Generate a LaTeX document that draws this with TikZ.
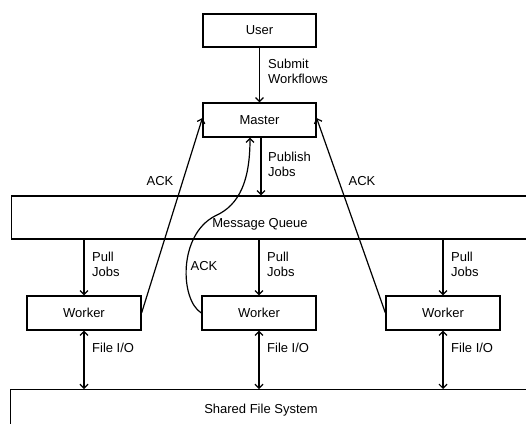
\documentclass[tikz,border=0pt]{standalone}
\usepackage{fontspec}
\setmainfont{Liberation Sans}
\usetikzlibrary{arrows.meta}
\begin{document}
\begin{tikzpicture}[x=1pt,y=-1pt,
  every node/.style={font=\fontsize{13}{15}\selectfont, inner sep=0pt},
  box/.style={draw, line width=1.2pt, minimum height=34pt},
  lbl/.style={anchor=west, align=left},
  conn/.style={line width=1.2pt, -{Straight Barb[length=4pt,width=8pt]}},
  dconn/.style={line width=1.2pt, {Straight Barb[length=4pt,width=8pt]}-{Straight Barb[length=4pt,width=8pt]}}]
\useasboundingbox (0,0) rectangle (526,423);
\node[box, minimum width=113pt, minimum height=33pt] (user) at (259.5,30.5) {User};
\node[box, minimum width=113pt] (master) at (259.5,120) {Master};
\node[box, minimum width=560pt, minimum height=43pt, anchor=west] (mq) at (11,217.5) {};
\node (mqt) at (260,224) {Message Queue};
\node[box, minimum width=114pt] (w1) at (84,313) {Worker};
\node[box, minimum width=114pt] (w2) at (259,313) {Worker};
\node[box, minimum width=114pt] (w3) at (443,313) {Worker};
\node[box, minimum width=560pt, minimum height=50pt, anchor=north west] (sfs) at (10,389) {};
\node (sfst) at (261,410) {Shared File System};

\draw[conn] (user.south -| master.north) -- (master.north);
\draw[conn] ([xshift=1.5pt]master.south) -- ([xshift=1.5pt]master.south |- mq.north);
\draw[conn] (w1.north |- mq.south) -- (w1.north);
\draw[conn] (w2.north |- mq.south) -- (w2.north);
\draw[conn] (w3.north |- mq.south) -- (w3.north);
\draw[dconn] (w1.south) -- (w1.south |- sfs.north);
\draw[dconn] (w2.south) -- (w2.south |- sfs.north);
\draw[dconn] (w3.south) -- (w3.south |- sfs.north);
\draw[conn] (w1.east) -- ([yshift=2pt]master.west);
\draw[conn] (w3.west) -- ([yshift=2pt]master.east);
\coordinate (cm) at (215,216);
\draw[conn] (w2.west) .. controls (180,300) and (178,235) .. (cm)
  .. controls (240,205) and (250,180) .. ([xshift=-9.5pt]master.south);

\node[lbl] (l1) at (268,71) {Submit\\Workflows};
\node[lbl] (l2) at (268,164) {Publish\\Jobs};
\node[lbl] (l3) at (92,264) {Pull\\Jobs};
\node[lbl] (l4) at (267,264) {Pull\\Jobs};
\node[lbl] (l5) at (451,264) {Pull\\Jobs};
\node[lbl] (l6) at (92,348) {File I/O};
\node[lbl] (l7) at (267,348) {File I/O};
\node[lbl] (l8) at (451,348) {File I/O};
\node (a1) at (160,181) {ACK};
\node (a2) at (362,181) {ACK};
\node (a3) at (204,266) {ACK};
\end{tikzpicture}
\end{document}
